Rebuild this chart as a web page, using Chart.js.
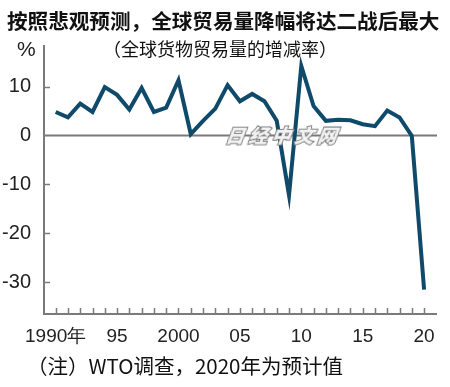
<!DOCTYPE html>
<html>
<head>
<meta charset="utf-8">
<script src="https://cdn.jsdelivr.net/npm/chart.js@4/dist/chart.umd.min.js"></script>
<style>
  body { margin: 0; background: #fff; }
  #wrap { position: relative; width: 450px; height: 387px; overflow: hidden; font-family: "Noto Sans CJK SC", sans-serif; }
  #chart { position: absolute; left: 0; top: 0; }
  .txt { position: absolute; white-space: nowrap; color: #111; }
  #title { left: 7px; top: 5px; font-size: 20.6px; font-weight: bold; }
  #sub { left: 103px; top: 35px; font-size: 18px; }
  #pct { left: 17px; top: 37px; font-size: 21px; font-family: "Liberation Sans", sans-serif; color: #222; }
  #note { left: 27px; top: 350px; font-size: 20.5px; }
  #mark { left: 226px; top: 121px; font-size: 19px; font-weight: 900; font-style: italic; letter-spacing: 4px; color: #f2f2f2; -webkit-text-stroke: 2px #7f7f7f; paint-order: stroke fill; transform: skewX(-8deg); }
</style>
</head>
<body>
<div id="wrap">
  <canvas id="chart" width="450" height="387"></canvas>
  <div class="txt" id="title">按照悲观预测，全球贸易量降幅将达二战后最大</div>
  <div class="txt" id="sub">（全球货物贸易量的增减率）</div>
  <div class="txt" id="pct">%</div>
  <div class="txt" id="mark">日经中文网</div>
  <div class="txt" id="note">（注）WTO调查，2020年为预计值</div>
</div>
<script>
const years = [1990, 1991, 1992, 1993, 1994, 1995, 1996, 1997, 1998, 1999,
  2000, 2001, 2002, 2003, 2004, 2005, 2006, 2007, 2008, 2009,
  2010, 2011, 2012, 2013, 2014, 2015, 2016, 2017, 2018, 2019, 2020];
const tradeGrowth = [4.8, 3.7, 6.5, 4.8, 9.9, 8.3, 5.3, 9.7, 4.8, 5.7,
  11.3, 0.3, 3.0, 5.5, 10.3, 7.0, 8.5, 7.0, 3.0, -12.2,
  14.2, 6.0, 3.0, 3.2, 3.1, 2.3, 1.9, 5.1, 3.7, -0.1, -31.5];
const yTicks = [10, 0, -10, -20, -30];
const xLabels = { 1990: "1990年", 1995: "95", 2000: "2000", 2005: "05", 2010: "10", 2015: "15", 2020: "20" };

const axisColor = "#7a7a7a";
const lineColor = "#0f4a6b";
const numFont = "'Liberation Sans', sans-serif";

// axis lines, zero line and the little inward ticks
const axisPlugin = {
  id: "axisPlugin",
  beforeDatasetsDraw(chart) {
    const { ctx, chartArea, scales } = chart;
    const x = scales.x, y = scales.y;
    ctx.save();
    ctx.strokeStyle = axisColor;
    ctx.lineWidth = 2;
    const y0 = y.getPixelForValue(0);
    ctx.beginPath();
    ctx.moveTo(chartArea.left, y0);
    ctx.lineTo(chartArea.right, y0);
    ctx.stroke();
    ctx.beginPath();
    ctx.moveTo(chartArea.left, chartArea.top);
    ctx.lineTo(chartArea.left, chartArea.bottom);
    ctx.lineTo(chartArea.right, chartArea.bottom);
    ctx.stroke();
    ctx.lineWidth = 1.5;
    years.forEach(yr => {
      const px = Math.round(x.getPixelForValue(yr)) + 0.5;
      ctx.beginPath();
      ctx.moveTo(px, chartArea.bottom);
      ctx.lineTo(px, chartArea.bottom - 6);
      ctx.stroke();
    });
    yTicks.forEach(v => {
      if (v === 0) return;
      const py = Math.round(y.getPixelForValue(v)) + 0.5;
      ctx.beginPath();
      ctx.moveTo(chartArea.left, py);
      ctx.lineTo(chartArea.left + 6, py);
      ctx.stroke();
    });
    ctx.restore();
  }
};

new Chart(document.getElementById("chart"), {
  type: "line",
  data: {
    datasets: [{
      data: years.map((yr, i) => ({ x: yr, y: tradeGrowth[i] })),
      borderColor: lineColor,
      borderWidth: 4,
      pointRadius: 0,
      tension: 0,
      borderJoinStyle: "miter",
      fill: false
    }]
  },
  options: {
    responsive: false,
    animation: false,
    events: [],
    layout: { padding: { top: 45, right: 13, bottom: 35, left: 0 } },
    plugins: { legend: { display: false }, tooltip: { enabled: false } },
    scales: {
      x: {
        type: "linear",
        min: 1989.05,
        max: 2021.05,
        border: { display: false },
        grid: { display: false },
        afterBuildTicks: s => { s.ticks = years.map(v => ({ value: v })); },
        afterFit: s => { s.height = 38; },
        ticks: {
          autoSkip: false,
          maxRotation: 0,
          padding: 3,
          color: "#222",
          font: { family: numFont, size: 19 },
          callback: v => xLabels[v] || ""
        }
      },
      y: {
        min: -36.5,
        max: 18.5,
        border: { display: false },
        grid: { display: false },
        afterBuildTicks: s => { s.ticks = yTicks.map(v => ({ value: v })); },
        afterFit: s => { s.width = 44; },
        ticks: {
          padding: 5,
          color: "#222",
          font: { family: numFont, size: 20 }
        }
      }
    }
  },
  plugins: [axisPlugin]
});
</script>
</body>
</html>
